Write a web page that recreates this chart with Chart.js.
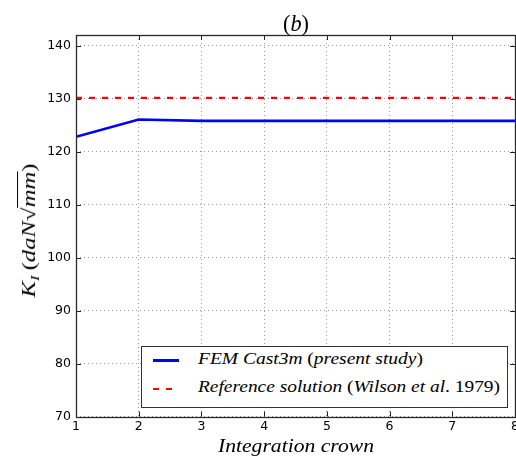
<!DOCTYPE html>
<html><head><meta charset="utf-8">
<script src="https://cdn.jsdelivr.net/npm/chart.js@4/dist/chart.umd.min.js"></script>
<style>
html,body{margin:0;padding:0;background:#fff;}
#wrap{position:relative;width:516px;height:458px;overflow:hidden;background:#fff;}
canvas{position:absolute;left:0;top:0;}
.txt{position:absolute;white-space:nowrap;font-family:'Liberation Serif','DejaVu Serif',serif;color:#000;}
.it{font-style:italic;}
.up{font-style:normal;}
#legend{position:absolute;left:141px;top:346px;width:367px;height:62px;box-sizing:border-box;border:1.5px solid #333;background:#fff;}
.sample{position:absolute;}
</style></head>
<body><div id="wrap">
<canvas id="c" width="516" height="458"></canvas>
<div id="title" class="txt" style="top:12px;font-size:23px;line-height:23px;"><span class="up">(</span><span class="it">b</span><span class="up">)</span></div>
<div id="xlabel" class="txt it" style="top:436px;font-size:19px;line-height:19px;">Integration crown</div>
<div id="ylabel" class="txt" style="font-size:19px;line-height:19px;"><span class="it">K</span><span class="it" style="font-size:13px;position:relative;top:4px;">I</span>&#8201;<span class="up">(</span><span class="it">daN</span><span class="up">&#8730;</span><span class="it" style="border-top:1px solid #000;">mm</span><span class="up">)</span></div>
<div id="legend"></div>
<div class="sample" style="left:153px;top:359px;width:26px;height:2.5px;background:#0000ff;"></div>
<div class="sample" style="left:153px;top:388px;width:26px;height:2px;background:repeating-linear-gradient(to right,#ff0000 0 6px,transparent 6px 13px);"></div>
<div id="leg1" class="txt" style="left:198px;top:351px;font-size:16px;line-height:16px;"><span class="it">FEM Cast3m </span><span class="up">(</span><span class="it">present study</span><span class="up">)</span></div>
<div id="leg2" class="txt" style="left:198px;top:379px;font-size:16px;line-height:16px;"><span class="it">Reference solution </span><span class="up">(</span><span class="it">Wilson et al</span><span class="up">. 1979)</span></div>
</div>
<script>
// ---- data ----
const crowns = [1, 2, 3, 4, 5, 6, 7, 8];
const femValues = [122.8, 126.05, 125.8, 125.8, 125.8, 125.8, 125.8, 125.8];
const referenceValues = [130.15, 130.15, 130.15, 130.15, 130.15, 130.15, 130.15, 130.15];
const xTicks = [1, 2, 3, 4, 5, 6, 7, 8];
const yTicks = [70, 80, 90, 100, 110, 120, 130, 140];
const seriesNames = ['FEM Cast3m (present study)', 'Reference solution (Wilson et al. 1979)'];

const framePlugin = {
  id: 'frame',
  afterDatasetsDraw(chart) {
    const {ctx, chartArea: a, scales} = chart;
    ctx.save();
    ctx.strokeStyle = '#222';
    ctx.lineWidth = 1;
    const L = 5;
    ctx.beginPath();
    xTicks.forEach(v => {
      const x = Math.round(scales.x.getPixelForValue(v)) + 0.5;
      ctx.moveTo(x, a.bottom); ctx.lineTo(x, a.bottom - L);
      ctx.moveTo(x, a.top); ctx.lineTo(x, a.top + L);
    });
    yTicks.forEach(v => {
      const y = Math.round(scales.y.getPixelForValue(v)) + 0.5;
      ctx.moveTo(a.left, y); ctx.lineTo(a.left + L, y);
      ctx.moveTo(a.right, y); ctx.lineTo(a.right - L, y);
    });
    ctx.stroke();
    ctx.lineWidth = 1.3;
    ctx.strokeStyle = '#2a2a2a';
    ctx.strokeRect(Math.round(a.left) + 0.5, Math.round(a.top) + 0.5,
                   Math.round(a.right) - Math.round(a.left), Math.round(a.bottom) - Math.round(a.top));
    ctx.restore();
  }
};

new Chart(document.getElementById('c'), {
  type: 'line',
  data: {
    datasets: [
      {
        label: seriesNames[0],
        data: crowns.map((c, i) => ({x: c, y: femValues[i]})),
        borderColor: '#0000ff', borderWidth: 2.6, pointRadius: 0, tension: 0,
        borderCapStyle: 'butt', clip: 0, order: 1
      },
      {
        label: seriesNames[1],
        data: crowns.map((c, i) => ({x: c, y: referenceValues[i]})),
        borderColor: '#ff0000', borderWidth: 2.2, borderDash: [6, 7], pointRadius: 0, tension: 0,
        borderCapStyle: 'butt', clip: 0, order: 0
      }
    ]
  },
  options: {
    responsive: false, animation: false, devicePixelRatio: 1,
    layout: {padding: {left: 0, top: 35, right: 1, bottom: 0}},
    plugins: {legend: {display: false}, title: {display: false}, tooltip: {enabled: false}},
    scales: {
      x: {
        type: 'linear', min: 1, max: 8,
        afterBuildTicks(s) { s.ticks = xTicks.map(v => ({value: v})); },
        afterFit(s) { s.height = 41.5; s.paddingLeft = 0; s.paddingRight = 0; },
        ticks: {font: {family: 'DejaVu Sans', size: 12.5}, color: '#000', padding: 3, maxRotation: 0, autoSkip: false},
        grid: {color: '#999', lineWidth: 1, drawTicks: false},
        border: {display: false, dash: [1, 3]}
      },
      y: {
        type: 'linear', min: 70, max: 142,
        afterBuildTicks(s) { s.ticks = yTicks.map(v => ({value: v})); },
        afterFit(s) { s.width = 76; s.paddingTop = 0; s.paddingBottom = 0; },
        ticks: {font: {family: 'DejaVu Sans', size: 12.5}, color: '#000', padding: 5, autoSkip: false},
        grid: {color: '#999', lineWidth: 1, drawTicks: false},
        border: {display: false, dash: [1, 3]}
      }
    }
  },
  plugins: [framePlugin]
});

// ---- text fitting ----
function fitH(id, targetW, cx, left) {
  const el = document.getElementById(id);
  const w = el.getBoundingClientRect().width;
  const s = targetW / w;
  el.style.transformOrigin = 'left top';
  el.style.transform = 'scaleX(' + s + ')';
  if (cx !== null) el.style.left = (cx - targetW / 2) + 'px';
  else el.style.left = left + 'px';
}
fitH('title', 26, 295.5, null);
fitH('xlabel', 156, 295.5, null);
fitH('leg1', 225, null, 198);
fitH('leg2', 302, null, 198);
(function () {
  const el = document.getElementById('ylabel');
  const r = el.getBoundingClientRect();
  const s = 134 / r.width;
  el.style.left = (30 - r.width / 2) + 'px';
  el.style.top = (230 - r.height / 2) + 'px';
  el.style.transformOrigin = 'center center';
  el.style.transform = 'rotate(-90deg) scaleX(' + s + ')';
})();
</script>
</body></html>
